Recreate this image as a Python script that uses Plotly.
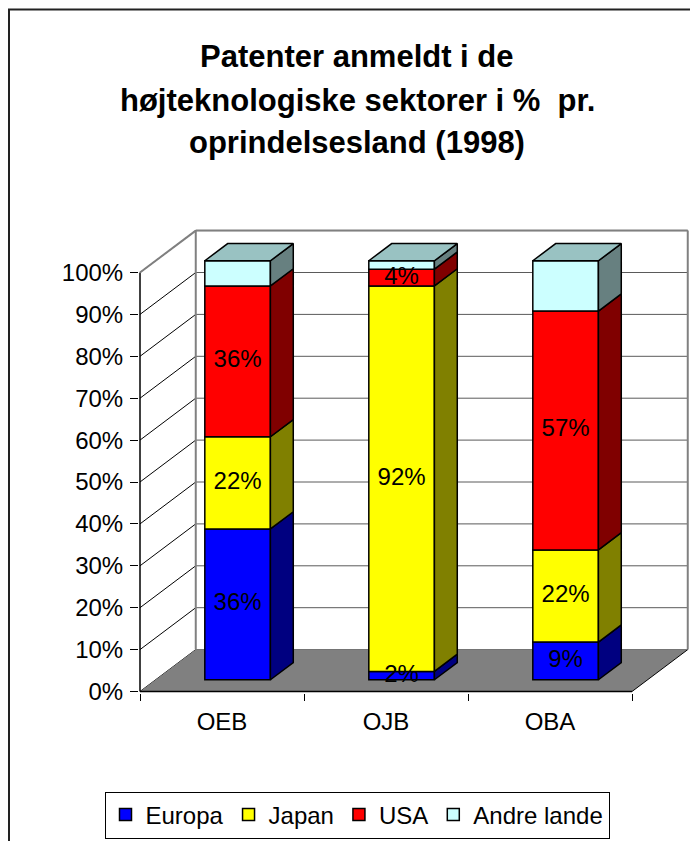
import plotly.graph_objects as go

# ---------------- data ----------------
categories = ["OEB", "OJB", "OBA"]
series_names = ["Europa", "Japan", "USA", "Andre lande"]
europa = [36, 2, 9]
japan = [22, 92, 22]
usa = [36, 4, 57]
andre = [6, 2, 12]
series_values = [europa, japan, usa, andre]
show_label = [True, True, True, False]
y_tick_values = [0, 10, 20, 30, 40, 50, 60, 70, 80, 90, 100]
y_tick_labels = ["0%", "10%", "20%", "30%", "40%", "50%", "60%", "70%", "80%", "90%", "100%"]
title_lines = ["Patenter anmeldt i de",
               "højteknologiske sektorer i %\u00a0\u00a0pr.",
               "oprindelsesland (1998)"]

# ---------------- styles ----------------
front_colors = ["#0000FF", "#FFFF00", "#FF0000", "#CCFFFF"]
side_colors = ["#000080", "#808000", "#800000", "#678080"]
top_colors = ["#0000C0", "#C0C000", "#C00000", "#99C2C2"]
FONT = "Liberation Sans, Arial, sans-serif"

OFF = 8                       # page body margin of the written html
W, H = 698 - OFF, 841 - OFF   # figure size so that it fits the window
ML, MR, MT, MB = 131, 4, 216, 148
PX_PER_CAT = 164.0
PX_PER_PCT = 4.19
DX, DY = 0.34, 10.0          # depth of the 3-D box (category units, %)
F0, F1 = 0.28, 0.69          # bar front/back depth fractions
BW = 0.40                    # bar width (category units)

plot_w = W - ML - MR
plot_h = H - MT - MB
x0 = -0.5 - ((140 - OFF) - ML) / PX_PER_CAT
x1 = x0 + plot_w / PX_PER_CAT
y0 = -(H - MB - (691.5 - OFF)) / PX_PER_PCT
y1 = y0 + plot_h / PX_PER_PCT


def paper_x(px):
    return (px - OFF - ML) / plot_w


def paper_y(py):
    return (H - MB - (py - OFF)) / plot_h


fig = go.Figure()

# ---------------- walls, floor, gridlines (shapes below traces) ----------------
shapes = []
L, R = -0.5, len(categories) - 0.5
GRAY = "#808080"


def line(xa, ya, xb, yb, color, width=1.0):
    shapes.append(dict(type="line", xref="x", yref="y", x0=xa, y0=ya, x1=xb, y1=yb,
                       line=dict(color=color, width=width), layer="below"))


def poly(pts, fill, lc=None, lw=0):
    d = "M " + " L ".join(f"{a},{b}" for a, b in pts) + " Z"
    shapes.append(dict(type="path", xref="x", yref="y", path=d, fillcolor=fill,
                       line=dict(color=lc or fill, width=lw), layer="below"))


top = y_tick_values[-1]
poly([(L, 0), (L + DX, DY), (L + DX, top + DY), (L, top)], "white")
poly([(L + DX, DY), (R + DX, DY), (R + DX, top + DY), (L + DX, top + DY)], "white")
for v in y_tick_values:
    line(L + DX, v + DY, R + DX, v + DY, "#5a5a5a", 1)
    line(L, v, L + DX, v + DY, "#000000", 1)
poly([(L, 0), (R, 0), (R + DX, DY), (L + DX, DY)], GRAY)
line(L, 0, R, 0, "#000000", 1.5)
line(R, 0, R + DX, DY, "#000000", 1)
line(L, 0, L, top, "#000000", 1.5)
line(L, top, L + DX, top + DY, GRAY, 2)
line(L + DX, DY, L + DX, top + DY, GRAY, 2)
line(R + DX, DY, R + DX, top + DY, GRAY, 2)
line(L + DX, top + DY, R + DX, top + DY, GRAY, 2)

# outer chart-area frame
shapes.append(dict(type="rect", xref="paper", yref="paper",
                   x0=paper_x(9), x1=paper_x(720), y0=paper_y(860), y1=paper_y(9.5),
                   line=dict(color="#222222", width=2), fillcolor="rgba(0,0,0,0)",
                   layer="above"))

# ---------------- bars: front faces ----------------
xs = list(range(len(categories)))
bases = [[0] * len(categories)]
for vals in series_values[:-1]:
    bases.append([b + v for b, v in zip(bases[-1], vals)])

for k, (name, vals) in enumerate(zip(series_names, series_values)):
    fig.add_trace(go.Bar(
        x=[i + F0 * DX for i in xs], y=vals,
        base=[b + F0 * DY for b in bases[k]],
        width=BW, name=name, opacity=1,
        marker=dict(color=front_colors[k], line=dict(color="black", width=1.5)),
        hoverinfo="skip"))

# ---------------- bars: side and top faces ----------------
for i in xs:
    for k, vals in enumerate(series_values):
        b = bases[k][i]
        t = b + vals[i]
        xr = i + BW / 2
        pts = [(xr + F0 * DX, b + F0 * DY), (xr + F1 * DX, b + F1 * DY),
               (xr + F1 * DX, t + F1 * DY), (xr + F0 * DX, t + F0 * DY),
               (xr + F0 * DX, b + F0 * DY)]
        fig.add_trace(go.Scatter(
            x=[p[0] for p in pts], y=[p[1] for p in pts], mode="lines",
            fill="toself", fillcolor=side_colors[k],
            line=dict(color="black", width=1.5), showlegend=False, hoverinfo="skip"))
        if k == len(series_values) - 1:
            xl = i - BW / 2
            pts = [(xl + F0 * DX, t + F0 * DY), (xr + F0 * DX, t + F0 * DY),
                   (xr + F1 * DX, t + F1 * DY), (xl + F1 * DX, t + F1 * DY),
                   (xl + F0 * DX, t + F0 * DY)]
            fig.add_trace(go.Scatter(
                x=[p[0] for p in pts], y=[p[1] for p in pts], mode="lines",
                fill="toself", fillcolor=top_colors[k],
                line=dict(color="black", width=1.5), showlegend=False, hoverinfo="skip"))

# ---------------- data labels ----------------
lx, ly, lt = [], [], []
for k, vals in enumerate(series_values):
    if not show_label[k]:
        continue
    for i in xs:
        lx.append(i + F0 * DX)
        ly.append(bases[k][i] + vals[i] / 2 + F0 * DY)
        lt.append(f"{vals[i]}%")
fig.add_trace(go.Scatter(x=lx, y=ly, text=lt, mode="text", showlegend=False,
                         textfont=dict(family=FONT, size=24, color="black"),
                         hoverinfo="skip"))

# ---------------- title ----------------
annotations = []
for line_text, py in zip(title_lines, [56, 100, 142]):
    annotations.append(dict(text=f"<b>{line_text}</b>", xref="paper", yref="paper",
                            x=paper_x(357), y=paper_y(py), xanchor="center",
                            yanchor="middle", showarrow=False,
                            font=dict(family=FONT, size=31, color="black")))

fig.update_layout(
    width=W, height=H,
    margin=dict(l=ML, r=MR, t=MT, b=MB, pad=0),
    paper_bgcolor="white", plot_bgcolor="white",
    barmode="overlay",
    shapes=shapes, annotations=annotations,
    font=dict(family=FONT, size=24, color="black"),
    xaxis=dict(range=[x0, x1], showgrid=False, zeroline=False, showline=False,
               tickmode="array", tickvals=xs, ticktext=categories, ticks="",
               ticklabelstandoff=12,
               minor=dict(tickmode="array", tickvals=[L + j for j in range(len(categories) + 1)],
                          ticks="outside", ticklen=7, tickcolor="black", tickwidth=1,
                          showgrid=False),
               tickfont=dict(family=FONT, size=24, color="black"), fixedrange=True),
    yaxis=dict(range=[y0, y1], showgrid=False, zeroline=False, showline=False,
               tickmode="array", tickvals=y_tick_values, ticktext=y_tick_labels,
               ticks="outside", ticklen=8, tickcolor="black", tickwidth=1,
               ticklabelstandoff=2,
               tickfont=dict(family=FONT, size=24, color="black"), fixedrange=True),
    legend=dict(orientation="h", xref="container", yref="container",
                x=(357 - OFF) / W, xanchor="center", y=(H - (815 - OFF)) / H,
                yanchor="middle",
                bordercolor="black", borderwidth=1, bgcolor="white",
                traceorder="normal", font=dict(family=FONT, size=24, color="black")),
    showlegend=True,
)

fig.write_html("out.html")
